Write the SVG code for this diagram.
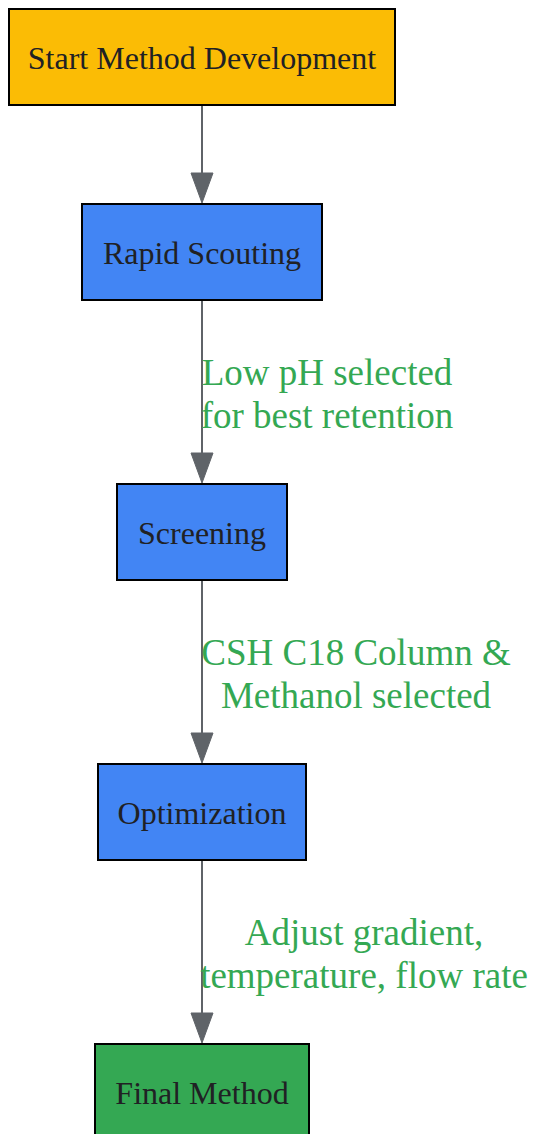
<svg xmlns="http://www.w3.org/2000/svg" width="533" height="1134" viewBox="0 0 533 1134">
<style>
.box{stroke:#000;stroke-width:2}
.nt{font-family:"Liberation Serif",serif;font-size:32px;fill:#202124;text-anchor:middle}
.el{font-family:"Liberation Serif",serif;font-size:37px;fill:#34A853;text-anchor:middle}
.edge{stroke:#5F6368;stroke-width:2;fill:none}
.ah{fill:#5F6368;stroke:#5F6368;stroke-width:1}
</style>
<rect width="533" height="1134" fill="#fff"/>
<g id="connectors">
<line class="edge" x1="202" y1="105" x2="202" y2="173"/>
<polygon class="ah" points="191,173 213,173 202,203"/>
<line class="edge" x1="202" y1="300" x2="202" y2="453"/>
<polygon class="ah" points="191,453 213,453 202,483"/>
<line class="edge" x1="202" y1="580" x2="202" y2="733"/>
<polygon class="ah" points="191,733 213,733 202,763"/>
<line class="edge" x1="202" y1="860" x2="202" y2="1013"/>
<polygon class="ah" points="191,1013 213,1013 202,1043"/>
<text class="el" x="327" y="385">Low pH selected</text>
<text class="el" x="327" y="428">for best retention</text>
<text class="el" x="356" y="665">CSH C18 Column &amp;</text>
<text class="el" x="356" y="708">Methanol selected</text>
<text class="el" x="364" y="945">Adjust gradient,</text>
<text class="el" x="364" y="988">temperature, flow rate</text>
</g>
<g id="start">
<rect class="box" x="9" y="9" width="386" height="96" fill="#FBBC05"/>
<text class="nt" x="202" y="69">Start Method Development</text>
</g>
<g id="scouting">
<rect class="box" x="82" y="204" width="240" height="96" fill="#4285F4"/>
<text class="nt" x="202" y="264">Rapid Scouting</text>
</g>
<g id="screening">
<rect class="box" x="117" y="484" width="170" height="96" fill="#4285F4"/>
<text class="nt" x="202" y="544">Screening</text>
</g>
<g id="optimization">
<rect class="box" x="98" y="764" width="208" height="96" fill="#4285F4"/>
<text class="nt" x="202" y="824">Optimization</text>
</g>
<g id="final">
<rect class="box" x="95" y="1044" width="214" height="96" fill="#34A853"/>
<text class="nt" x="202" y="1104">Final Method</text>
</g>
</svg>
